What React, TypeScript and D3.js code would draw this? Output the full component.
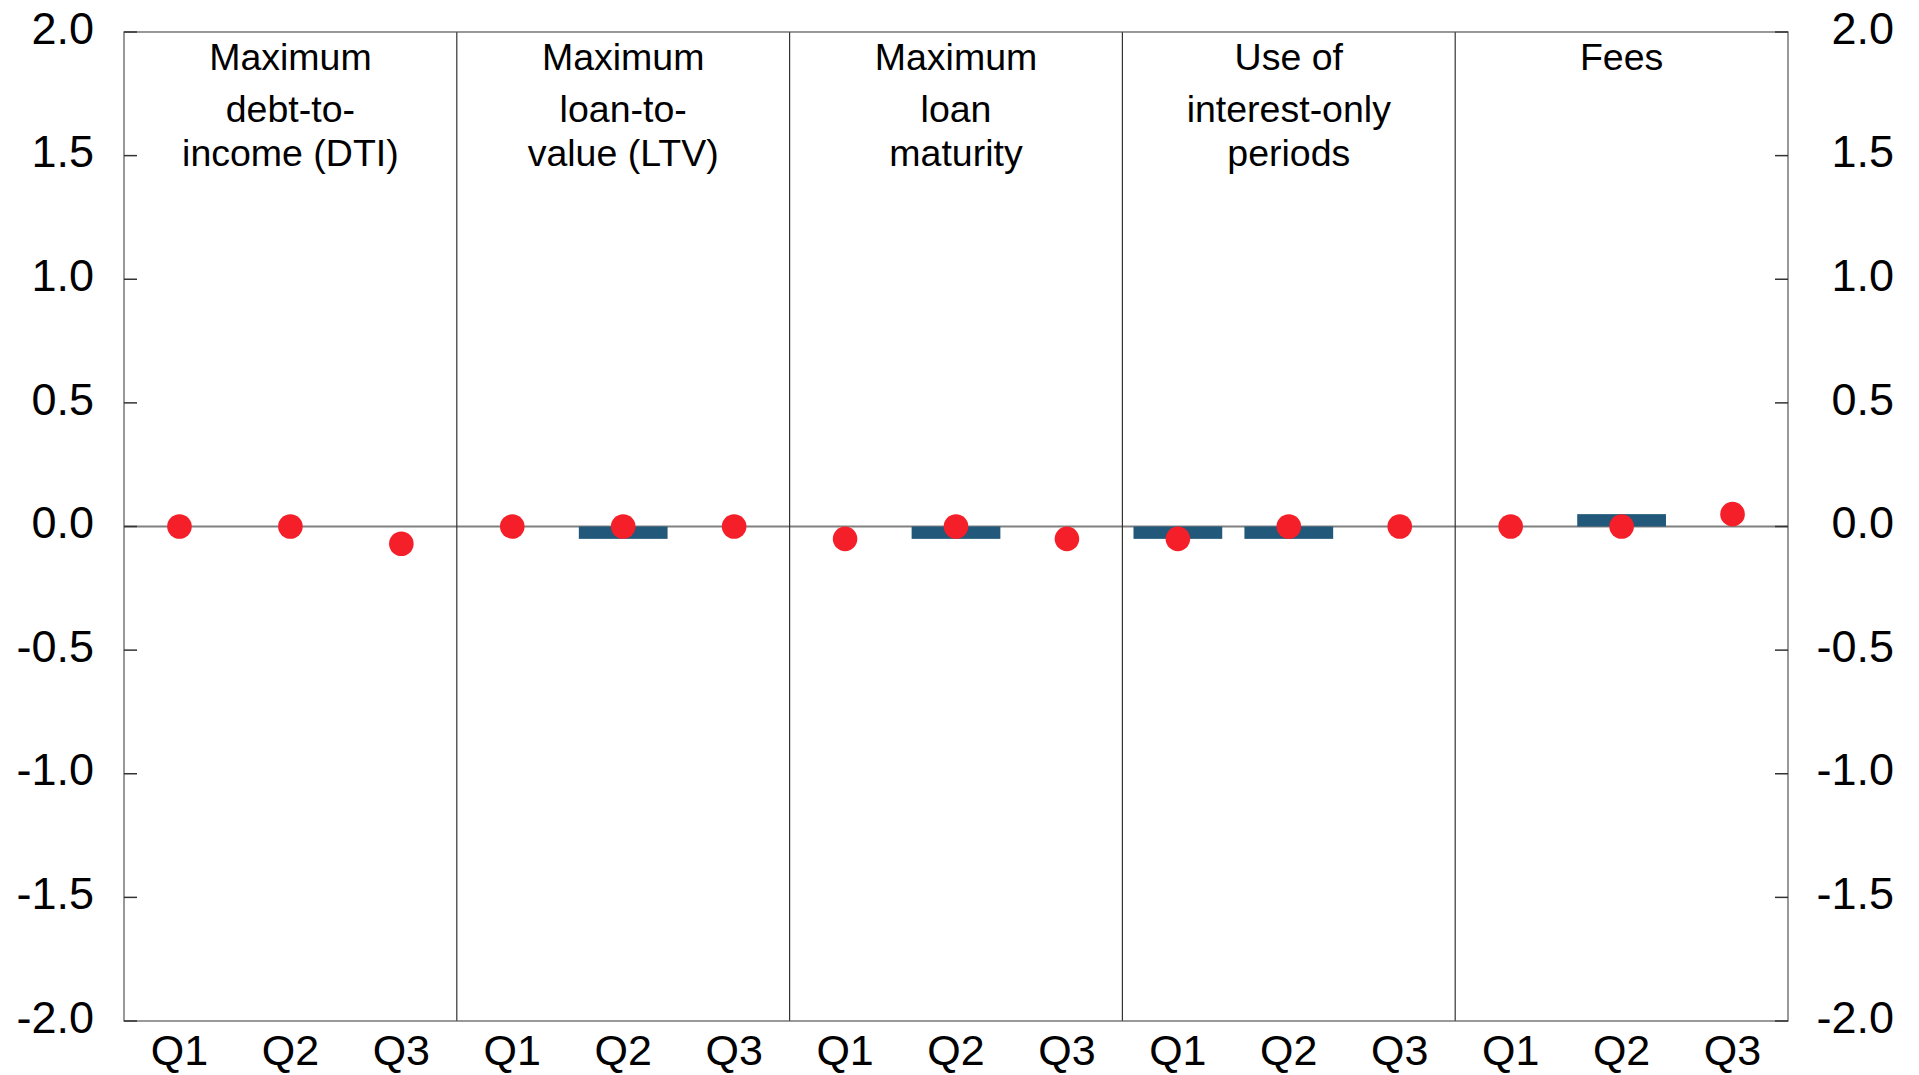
import React from "react";
import * as d3 from "d3";

const panels = [
  ["Maximum", "debt-to-", "income (DTI)"],
  ["Maximum", "loan-to-", "value (LTV)"],
  ["Maximum", "loan", "maturity"],
  ["Use of", "interest-only", "periods"],
  ["Fees"],
];
const quarters = ["Q1", "Q2", "Q3"];
const barValues = [
  [0, 0, 0],
  [0, -0.05, 0],
  [0, -0.05, 0],
  [-0.05, -0.05, 0],
  [0, 0.05, 0],
];
const dotValues = [
  [0, 0, -0.07],
  [0, 0, 0],
  [-0.05, 0, -0.05],
  [-0.05, 0, 0],
  [0, 0, 0.05],
];
const yTicks = [-2, -1.5, -1, -0.5, 0, 0.5, 1, 1.5, 2];

const W = 1919;
const H = 1075;
const L = 124;
const R = 1788;
const T = 32;
const B = 1021;
const FONT = "'Liberation Sans', Arial, sans-serif";
const BAR = "#22587a";
const DOT = "#f41f28";
const titleBaselines = [70, 122, 166];

export default function App() {
  const y = d3.scaleLinear().domain([-2, 2]).range([B, T]);
  const slots = panels.flatMap((_, p) => quarters.map((q) => `${p}-${q}`));
  const x = d3.scaleBand().domain(slots).range([L, R]).paddingInner(0.2).paddingOuter(0.1);
  const panelX = d3.scaleBand().domain(panels.map((_, i) => String(i))).range([L, R]);

  return (
    <svg width={W} height={H} style={{ position: "absolute", left: 0, top: 0, background: "#fff" }} fontFamily={FONT}>
      <line x1={L} x2={R} y1={y(0)} y2={y(0)} stroke="#808080" strokeWidth={2} />
      {barValues.map((vals, p) =>
        vals.map((v, i) => {
          if (v === 0) return null;
          const key = `${p}-${quarters[i]}`;
          return (
            <rect key={"b" + key} x={x(key)} width={x.bandwidth()} y={Math.min(y(v), y(0))} height={Math.abs(y(v) - y(0))} fill={BAR} />
          );
        })
      )}
      {panels.slice(1).map((_, i) => (
        <line key={"d" + i} x1={panelX(String(i + 1))} x2={panelX(String(i + 1))} y1={T} y2={B} stroke="#333" strokeWidth={1.2} />
      ))}
      <rect x={L} y={T} width={R - L} height={B - T} fill="none" stroke="#555" strokeWidth={1.2} />
      {yTicks.map((t) => (
        <g key={"t" + t}>
          <line x1={L} x2={L + 13} y1={y(t)} y2={y(t)} stroke="#333" strokeWidth={1.5} />
          <line x1={R - 13} x2={R} y1={y(t)} y2={y(t)} stroke="#333" strokeWidth={1.5} />
          <text x={94} y={y(t)} dy="0.26em" textAnchor="end" fontSize={45} fill="#000">
            {d3.format(".1f")(t).replace("−", "-")}
          </text>
          <text x={1894} y={y(t)} dy="0.26em" textAnchor="end" fontSize={45} fill="#000">
            {d3.format(".1f")(t).replace("−", "-")}
          </text>
        </g>
      ))}
      {dotValues.map((vals, p) =>
        vals.map((v, i) => {
          const key = `${p}-${quarters[i]}`;
          return <circle key={"c" + key} cx={x(key)! + x.bandwidth() / 2} cy={y(v)} r={12.3} fill={DOT} />;
        })
      )}
      {panels.map((lines, p) => (
        <text key={"p" + p} textAnchor="middle" fontSize={37.5} fill="#000">
          {lines.map((ln, j) => (
            <tspan key={j} x={panelX(String(p))! + panelX.bandwidth() / 2} y={titleBaselines[j]}>
              {ln}
            </tspan>
          ))}
        </text>
      ))}
      {slots.map((s) => (
        <text key={"x" + s} x={x(s)! + x.bandwidth() / 2} y={1065} textAnchor="middle" fontSize={43} fill="#000">
          {s.split("-")[1]}
        </text>
      ))}
    </svg>
  );
}
